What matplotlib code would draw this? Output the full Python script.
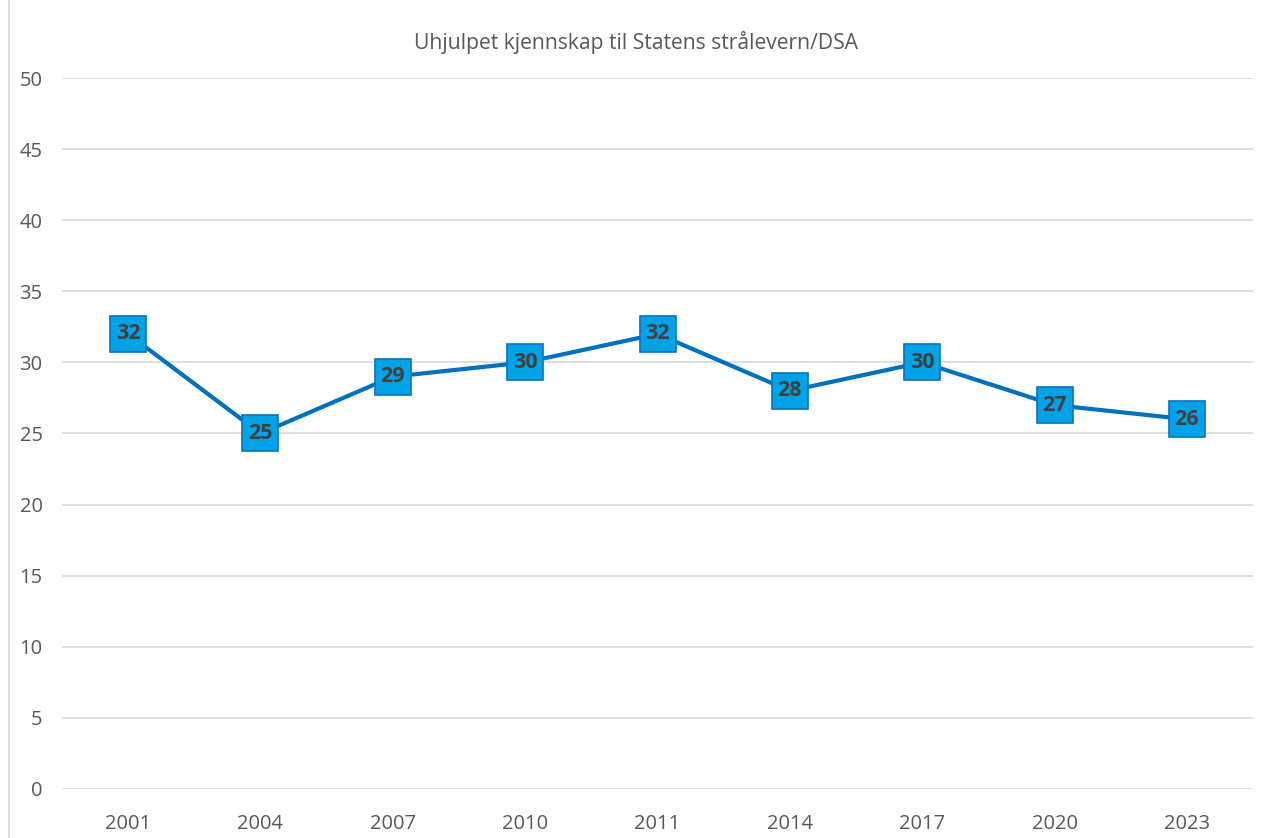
import matplotlib
matplotlib.use("Agg")
import matplotlib.pyplot as plt
from matplotlib.patches import Rectangle

plt.rcParams['font.family'] = ['Open Sans', 'DejaVu Sans']

# Data
years = ['2001', '2004', '2007', '2010', '2011', '2014', '2017', '2020', '2023']
values = [32, 25, 29, 30, 32, 28, 30, 27, 26]

fig = plt.figure(figsize=(12.73, 8.38), dpi=100)
ax = fig.add_axes([0.0487, 0.0585, 0.9356, 0.8484])

# outer chart border
fig.patches.append(Rectangle((9 / 1273, -0.01), 1.05, 1.02, transform=fig.transFigure,
                             fill=False, edgecolor='#d9d9d9', linewidth=1.2))

x = range(len(years))
ax.plot(x, values, color='#0070C0', linewidth=3, zorder=3)

# label boxes
ax.plot(x, values, linestyle='none', marker='s', markersize=26,
        markerfacecolor='#00A2E8', markeredgecolor='#0B72BD', markeredgewidth=1.2, zorder=4)
for xi, v in zip(x, values):
    ax.text(xi, v, str(v), ha='center', va='center', fontsize=15.5, fontweight='bold',
            color='#404040', zorder=5)

ax.set_xlim(-0.5, len(years) - 0.5)
ax.set_ylim(0, 50)
ax.set_yticks(range(0, 51, 5))
ax.set_xticks(list(x))
ax.set_xticklabels(years)
ax.yaxis.grid(True, color='#d9d9d9', linewidth=1.2)
ax.set_axisbelow(True)
for s in ax.spines.values():
    s.set_visible(False)
ax.tick_params(axis='both', length=0, labelsize=14.5, colors='#595959')
ax.tick_params(axis='y', pad=14)
ax.tick_params(axis='x', pad=18)

fig.text(0.5, 1 - 42 / 838, 'Uhjulpet kjennskap til Statens strålevern/DSA', ha='center',
         va='center', fontsize=15.2, color='#595959')

fig.savefig('out.png', dpi=100)
